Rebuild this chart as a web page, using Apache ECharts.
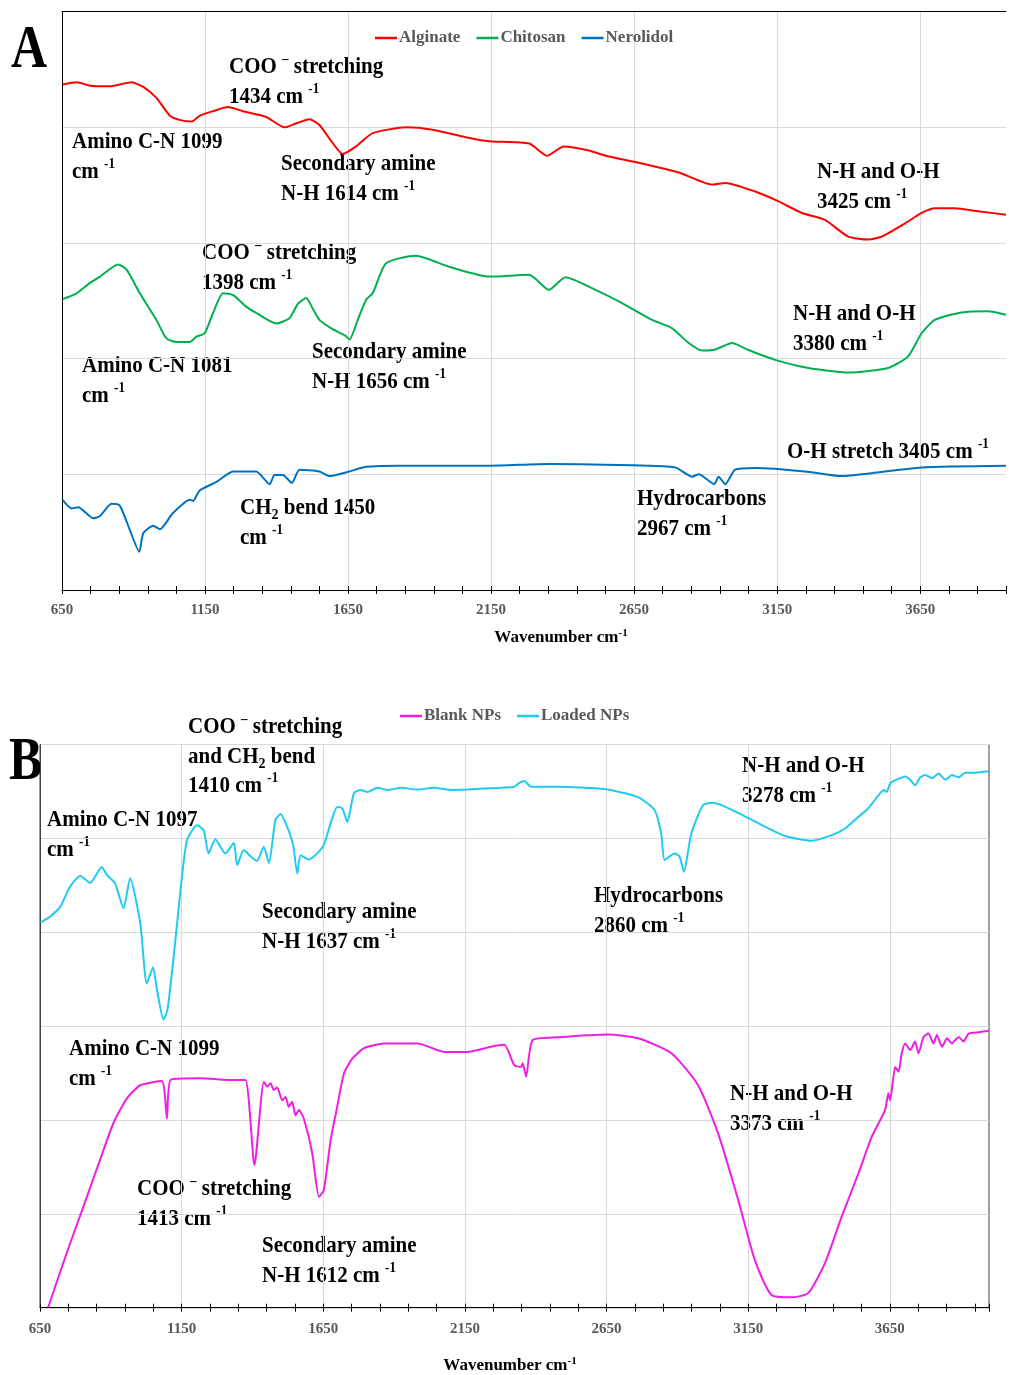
<!DOCTYPE html>
<html><head><meta charset="utf-8">
<script src="https://cdn.jsdelivr.net/npm/echarts@6/dist/echarts.min.js"></script>
<style>html,body{margin:0;padding:0;background:#fff}#c{width:1009px;height:1375px}</style>
</head><body><div id="c"></div>
<script>
// ---------------- DATA ----------------
const tickLabels = [650, 1150, 1650, 2150, 2650, 3150, 3650];
const axisTitle = 'Wavenumber cm';
const legendA = ['Alginate', 'Chitosan', 'Nerolidol'];
const legendB = ['Blank NPs', 'Loaded NPs'];

// [wavenumber (cm-1), relative transmittance]
const alginate = [[652,87.4],[701,87.8],[748,87.2],[817,87.1],[893,87.8],[934,87.0],[980,85.1],[1027,82.0],[1060,81.3],[1102,81.0],[1131,82.0],[1178,82.8],[1230,83.5],[1282,82.8],[1364,81.8],[1428,80.0],[1469,80.7],[1515,81.4],[1550,80.4],[1596,77.3],[1631,75.4],[1678,76.7],[1736,79.0],[1852,80.0],[1945,79.6],[2061,78.3],[2143,77.6],[2283,77.2],[2346,75.1],[2404,76.7],[2492,76.0],[2550,75.1],[2655,74.0],[2806,72.2],[2922,70.1],[2969,70.4],[3073,68.9],[3155,67.2],[3236,65.2],[3317,64.0],[3399,61.1],[3469,60.6],[3515,61.1],[3597,63.4],[3655,65.2],[3701,66.0],[3771,66.0],[3852,65.5],[3950,64.9]];
const chitosan = [[652,50.3],[701,51.3],[748,53.1],[783,54.2],[846,56.3],[876,55.4],[922,51.3],[980,46.7],[1015,43.5],[1050,42.9],[1097,42.9],[1120,43.8],[1149,44.4],[1178,47.9],[1213,51.3],[1248,51.0],[1294,49.0],[1329,47.9],[1399,46.1],[1445,47.0],[1475,49.5],[1504,50.5],[1525,48.8],[1550,46.7],[1596,45.1],[1640,44.0],[1655,43.3],[1684,46.7],[1713,50.2],[1736,51.3],[1783,56.5],[1887,57.8],[2003,55.9],[2143,54.2],[2283,54.5],[2352,51.9],[2410,54.1],[2515,51.9],[2608,49.6],[2713,46.7],[2782,45.3],[2841,42.7],[2887,41.4],[2934,41.6],[2992,42.7],[3050,41.5],[3143,39.8],[3259,38.4],[3399,37.6],[3538,38.4],[3608,40.4],[3655,44.4],[3701,46.7],[3794,48.0],[3887,48.2],[3950,47.6]];
const nerolidol = [[652,15.6],[684,14.1],[707,14.3],[759,12.4],[783,12.8],[823,14.9],[852,14.6],[887,10.4],[920,6.6],[934,9.8],[969,11.1],[992,10.5],[1038,13.3],[1097,15.6],[1108,15.4],[1131,17.2],[1190,18.7],[1248,20.5],[1329,20.5],[1376,18.3],[1393,19.9],[1422,19.9],[1454,18.5],[1480,20.8],[1550,20.5],[1585,19.7],[1655,20.5],[1713,21.3],[1829,21.5],[2143,21.5],[2352,21.8],[2701,21.5],[2794,21.2],[2852,19.6],[2876,20.0],[2930,18.3],[2945,19.6],[2969,18.3],[3003,20.8],[3073,21.1],[3248,20.5],[3375,19.7],[3480,20.2],[3655,21.2],[3950,21.5]];

const loadedNPs = [[652,82.1],[685,83.3],[721,85.4],[756,89.7],[792,92.0],[827,90.5],[868,93.9],[886,92.2],[915,90.4],[945,85.1],[968,91.5],[1004,81.9],[1027,69.1],[1049,72.5],[1063,67.7],[1086,61.4],[1100,63.5],[1122,74.8],[1151,91.8],[1169,99.6],[1204,102.8],[1228,101.7],[1245,96.8],[1269,99.8],[1304,96.8],[1334,99.0],[1346,94.3],[1369,97.5],[1393,96.2],[1416,95.2],[1440,98.2],[1458,94.7],[1481,103.9],[1499,105.2],[1523,102.4],[1544,98.5],[1558,92.5],[1570,96.4],[1599,95.5],[1629,96.8],[1652,98.6],[1676,103.2],[1699,106.7],[1717,106.4],[1735,103.5],[1758,109.6],[1782,110.3],[1806,109.9],[1841,110.8],[1877,110.3],[1924,110.8],[1983,110.4],[2041,110.8],[2100,110.3],[2160,110.4],[2218,110.6],[2277,110.8],[2324,111.0],[2342,111.8],[2360,112.2],[2383,111.0],[2478,111.0],[2643,110.5],[2761,108.8],[2820,106.0],[2843,101.0],[2855,95.4],[2890,96.8],[2908,96.1],[2923,92.9],[2949,101.0],[2991,107.1],[3026,107.6],[3138,104.7],[3209,102.5],[3280,100.5],[3374,99.5],[3445,100.7],[3492,102.1],[3539,104.6],[3574,106.4],[3610,109.2],[3628,110.3],[3639,109.9],[3651,111.7],[3669,112.4],[3686,112.8],[3704,113.2],[3722,112.5],[3739,111.3],[3757,113.0],[3775,113.5],[3799,112.8],[3822,113.8],[3846,112.5],[3869,113.5],[3893,113.0],[3916,114.0],[3952,114.0],[4000,114.3]];
const blankNPs = [[679,0.1],[744,11.6],[803,21.5],[862,31.5],[909,39.3],[957,44.6],[1004,47.4],[1080,48.3],[1098,40.3],[1112,48.6],[1216,48.9],[1334,48.5],[1375,48.5],[1407,30.4],[1440,48.1],[1452,47.1],[1464,47.8],[1475,46.4],[1487,46.9],[1505,44.2],[1517,44.9],[1528,42.8],[1540,43.9],[1552,41.0],[1564,42.1],[1581,40.3],[1611,32.9],[1635,23.6],[1652,25.1],[1676,35.7],[1699,42.8],[1723,49.9],[1753,53.1],[1794,55.3],[1865,56.3],[1983,56.3],[2077,54.5],[2160,54.5],[2242,55.6],[2289,56.0],[2324,51.7],[2348,51.3],[2354,52.1],[2366,49.2],[2389,57.0],[2478,57.6],[2655,58.2],[2761,57.4],[2879,54.2],[2973,47.4],[3044,37.1],[3115,22.9],[3173,10.2],[3232,2.7],[3303,2.2],[3362,3.1],[3421,9.5],[3480,19.4],[3539,28.6],[3586,36.4],[3633,42.1],[3645,45.7],[3651,44.2],[3669,51.3],[3681,50.3],[3692,54.2],[3704,56.3],[3722,54.9],[3739,56.7],[3751,54.2],[3769,57.7],[3786,58.4],[3804,56.3],[3816,58.1],[3834,55.6],[3852,57.4],[3869,56.3],[3893,57.7],[3910,56.7],[3928,58.4],[3963,58.7],[4000,59.0]];

const annotationsA = [
  '{b|COO }{sup|–}{b| stretching}\n{b|1434 cm }{sup|-1}',
  '{b|Amino C-N 1099}\n{b|cm }{sup|-1}',
  '{b|Secondary amine}\n{b|N-H 1614 cm }{sup|-1}',
  '{b|COO }{sup|–}{b| stretching}\n{b|1398 cm }{sup|-1}',
  '{b|N-H and O-H}\n{b|3425 cm }{sup|-1}',
  '{b|Amino C-N 1081}\n{b|cm }{sup|-1}',
  '{b|Secondary amine}\n{b|N-H 1656 cm }{sup|-1}',
  '{b|CH}{sub|2}{b| bend 1450}\n{b|cm }{sup|-1}',
  '{b|N-H and O-H}\n{b|3380 cm }{sup|-1}',
  '{b|O-H stretch 3405 cm }{sup|-1}',
  '{b|Hydrocarbons}\n{b|2967 cm }{sup|-1}'
];
const annotationsB = [
  '{b|COO }{sup|–}{b| stretching}\n{b|and CH}{sub|2}{b| bend}\n{b|1410 cm }{sup|-1}',
  '{b|Amino C-N 1097}\n{b|cm }{sup|-1}',
  '{b|Secondary amine}\n{b|N-H 1637 cm }{sup|-1}',
  '{b|Hydrocarbons}\n{b|2860 cm }{sup|-1}',
  '{b|N-H and O-H}\n{b|3278 cm }{sup|-1}',
  '{b|Amino C-N 1099}\n{b|cm }{sup|-1}',
  '{b|COO }{sup|–}{b| stretching}\n{b|1413 cm }{sup|-1}',
  '{b|Secondary amine}\n{b|N-H 1612 cm }{sup|-1}',
  '{b|N-H and O-H}\n{b|3373 cm }{sup|-1}'
];

// ---------------- LAYOUT / STYLE ----------------
const F = '"Liberation Serif","Times New Roman",serif';
const posA = [[229,52],[72,127],[281,149],[202,238],[817,157],[82,351],[312,337],[240,493],[793,299],[787,437],[637,484]];
const posB = [[188,712],[47,805],[262,897],[594,881],[742,751],[69,1034],[137,1174],[262,1231],[730,1079]];
const rich = {
  b:{fontFamily:F,fontWeight:'bold',fontSize:21,lineHeight:27,color:'#000'},
  sup:{fontFamily:F,fontWeight:'bold',fontSize:13,lineHeight:19,verticalAlign:'top',color:'#000'},
  sub:{fontFamily:F,fontWeight:'bold',fontSize:14,lineHeight:15,verticalAlign:'bottom',color:'#000'}
};
const GREY = '#595959';

function xAxes(gridIndex, max, margin){
  return [
    {type:'value',gridIndex,min:650,max,interval:100,position:'bottom',
     axisLine:{show:true,lineStyle:{color:'#000',width:1}},
     axisTick:{show:true,inside:true,length:4,lineStyle:{color:'#000'}},
     axisLabel:{formatter:v=>tickLabels.includes(v)?String(v):'',margin,color:GREY,fontFamily:F,fontWeight:'bold',fontSize:15},
     splitLine:{show:false}},
    {type:'value',gridIndex,min:650,max,interval:100,position:'bottom',
     axisLine:{show:false},axisTick:{show:true,inside:false,length:4,lineStyle:{color:'#000'}},
     axisLabel:{show:false},splitLine:{show:false}},
    {type:'value',gridIndex,min:650,max,interval:500,position:'bottom',
     axisLine:{show:false},axisTick:{show:false},axisLabel:{show:false},
     splitLine:{show:true,showMinLine:false,showMaxLine:false,lineStyle:{color:'#d9d9d9',width:1}}}
  ];
}

const xAxis = [
  ...xAxes(0, 3950, 13),
  {type:'value',gridIndex:0,min:650,max:3950,position:'top',axisLine:{show:true,lineStyle:{color:'#000'}},axisTick:{show:false},axisLabel:{show:false},splitLine:{show:false}},
  ...xAxes(1, 4000, 14)
];
const yAxis = [
  {type:'value',gridIndex:0,min:0,max:100,interval:20,axisLine:{show:true,lineStyle:{color:'#000'}},axisTick:{show:false},axisLabel:{show:false},splitLine:{show:true,lineStyle:{color:'#d9d9d9'}}},
  {type:'value',gridIndex:1,min:0,max:120,interval:20,axisLine:{show:true,lineStyle:{color:'#404040'}},axisTick:{show:false},axisLabel:{show:false},splitLine:{show:true,lineStyle:{color:'#d9d9d9'}}}
];

function line(name, data, color, xi, yi){
  return {type:'line',name,data,xAxisIndex:xi,yAxisIndex:yi,showSymbol:false,symbol:'none',smooth:0.2,
    lineStyle:{color,width:2},itemStyle:{color},emphasis:{disabled:true}};
}

const graphic = [];
annotationsA.forEach((t,i)=>graphic.push({type:'text',x:posA[i][0],y:posA[i][1],scaleY:1.1,style:{text:t,rich,align:'left',verticalAlign:'top'}}));
annotationsB.forEach((t,i)=>graphic.push({type:'text',x:posB[i][0],y:posB[i][1],scaleY:1.1,style:{text:t,rich,align:'left',verticalAlign:'top'}}));
const titleRich = {
  n:{fontFamily:F,fontWeight:'bold',fontSize:17,lineHeight:20,color:GREY},
  s:{fontFamily:F,fontWeight:'bold',fontSize:11,lineHeight:14,verticalAlign:'top',color:GREY}
};
graphic.push({type:'text',x:561,y:638,style:{text:'{n|'+axisTitle+'}{s|-1}',rich:titleRich,align:'center',verticalAlign:'middle'}});
graphic.push({type:'text',x:510,y:1366,style:{text:'{n|'+axisTitle+'}{s|-1}',rich:titleRich,align:'center',verticalAlign:'middle'}});
graphic.push({type:'text',x:11,y:51,scaleY:1.22,style:{text:'A',font:'bold 50px '+F,fill:'#000',align:'left',verticalAlign:'middle'}});
graphic.push({type:'text',x:9,y:763,scaleY:1.22,style:{text:'B',font:'bold 50px '+F,fill:'#000',align:'left',verticalAlign:'middle'}});

const legendStyle = {orient:'horizontal',padding:0,icon:'rect',itemWidth:22,itemHeight:2.5,itemGap:16,
  textStyle:{fontFamily:F,fontWeight:'bold',fontSize:17,lineHeight:18,color:GREY,padding:[0,0,0,-3]}};

const option = {
  animation:false,
  backgroundColor:'#fff',
  grid:[
    {left:62,top:11.7,right:1,height:578.3,containLabel:false},
    {left:40,top:744.5,right:20,height:563.2,containLabel:false,show:true,borderColor:'#404040',borderWidth:1,backgroundColor:'transparent'}
  ],
  xAxis, yAxis,
  legend:[
    Object.assign({data:legendA,left:375,top:29},legendStyle),
    Object.assign({data:legendB,left:400,top:707},legendStyle)
  ],
  series:[
    line('Alginate', alginate, '#FF0000', 0, 0),
    line('Chitosan', chitosan, '#00B050', 0, 0),
    line('Nerolidol', nerolidol, '#0070C0', 0, 0),
    line('Blank NPs', blankNPs, '#EE1EE6', 4, 1),
    line('Loaded NPs', loadedNPs, '#1FCBF0', 4, 1)
  ],
  graphic
};
const chart = echarts.init(document.getElementById('c'), null, {renderer:'canvas'});
chart.setOption(option);
</script>
</body></html>
